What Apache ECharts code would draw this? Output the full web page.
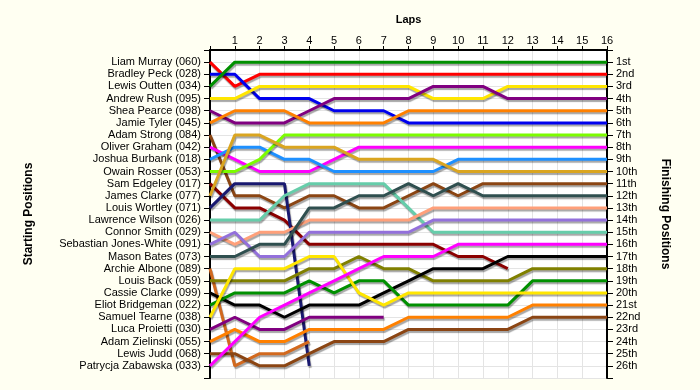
<!DOCTYPE html>
<html>
<head>
<meta charset="utf-8">
<script src="https://cdn.jsdelivr.net/npm/echarts@6/dist/echarts.min.js"></script>
<style>
  html, body { margin: 0; padding: 0; background: #FFFFF2; }
  #chart { width: 700px; height: 390px; }
</style>
</head>
<body>
<div id="chart"></div>
<script>
// ---- data ----
const lapTicks = [1, 2, 3, 4, 5, 6, 7, 8, 9, 10, 11, 12, 13, 14, 15, 16];
const riders = [
  "Liam Murray (060)", "Bradley Peck (028)", "Lewis Outten (034)", "Andrew Rush (095)",
  "Shea Pearce (098)", "Jamie Tyler (045)", "Adam Strong (084)", "Oliver Graham (042)",
  "Joshua Burbank (018)", "Owain Rosser (053)", "Sam Edgeley (017)", "James Clarke (077)",
  "Louis Wortley (071)", "Lawrence Wilson (026)", "Connor Smith (029)", "Sebastian Jones-White (091)",
  "Mason Bates (073)", "Archie Albone (089)", "Louis Back (059)", "Cassie Clarke (099)",
  "Eliot Bridgeman (022)", "Samuel Tearne (038)", "Luca Proietti (030)", "Adam Zielinski (055)",
  "Lewis Judd (068)", "Patrycja Zabawska (033)"
];
const finishLabels = ["1st","2nd","3rd","4th","5th","6th","7th","8th","9th","10th","11th","12th","13th",
  "14th","15th","16th","17th","18th","19th","20th","21st","22nd","23rd","24th","25th","26th"];
// position of each rider after each lap (index 0 = start)
const lapPositions = [
  [1,3,2,2,2,2,2,2,2,2,2,2,2,2,2,2,2],
  [2,2,4,4,4,5,5,5,6,6,6,6,6,6,6,6,6],
  [3,1,1,1,1,1,1,1,1,1,1,1,1,1,1,1,1],
  [4,4,3,3,3,3,3,3,3,4,4,4,3,3,3,3,3],
  [5,6,6,6,5,4,4,4,4,3,3,3,4,4,4,4,4],
  [6,5,5,5,6,6,6,6,5,5,5,5,5,5,5,5,5],
  [7,12,12,13,12,12,13,13,12,11,12,11,11,11,11,11,11],
  [8,9,10,10,10,9,8,8,8,8,8,8,8,8,8,8,8],
  [9,8,8,9,9,10,10,10,10,10,9,9,9,9,9,9,9],
  [10,10,9,7,7,7,7,7,7,7,7,7,7,7,7,7,7],
  [11,13,13,14,16,16,16,16,16,16,17,17,18],
  [12,7,7,8,8,8,9,9,9,9,10,10,10,10,10,10,10],
  [13,11,11,11,26],
  [14,14,14,12,11,11,11,11,13,15,15,15,15,15,15,15,15],
  [15,16,15,15,14,14,14,14,14,13,13,13,13,13,13,13,13],
  [16,15,17,17,15,15,15,15,15,14,14,14,14,14,14,14,14],
  [17,17,16,16,13,13,12,12,11,12,11,12,12,12,12,12,12],
  [18,26,25,25,24],
  [19,19,19,19,18,18,17,18,18,19,19,19,19,18,18,18,18],
  [20,21,21,22,21,21,21,20,19,18,18,18,17,17,17,17,17],
  [21,20,20,20,19,20,19,19,21,21,21,21,21,19,19,19,19],
  [22,18,18,18,17,17,20,21,20,20,20,20,20,20,20,20,20],
  [23,22,23,23,22,22,22,22],
  [24,23,24,24,23,23,23,23,22,22,22,22,22,21,21,21,21],
  [25,25,26,26,25,24,24,24,23,23,23,23,23,22,22,22,22],
  [26,24,22,21,20,19,18,17,17,17,16,16,16,16,16,16,16]
];
// ---- styles ----
const riderColors = [
  "#FF0000", "#0000EE", "#009000", "#FFE600", "#800080", "#FF8000", "#8B4513", "#FF00FF",
  "#1E90FF", "#7CFC00", "#8B0000", "#DAA520", "#191970", "#66CDAA", "#FFA07A", "#9370DB",
  "#2F4F4F", "#D2691E", "#808000", "#000000", "#009000", "#FFE600", "#800080", "#FF8000",
  "#8B4513", "#FF00FF"
];

const font = "'Liberation Sans', Arial, sans-serif";
const series = lapPositions.map((pos, i) => ({
  name: riders[i],
  type: 'line',
  yAxisIndex: 0,
  data: pos.map((p, lap) => [lap, p]),
  symbol: 'none',
  silent: true,
  animation: false,
  z: 3,
  lineStyle: {
    color: riderColors[i],
    width: 3,
    shadowColor: 'rgba(0,0,0,0.35)',
    shadowBlur: 1,
    shadowOffsetX: 1,
    shadowOffsetY: 2
  }
}));
// invisible series to bind right axis
series.push({ type: 'line', yAxisIndex: 1, data: [], symbol: 'none' });

const chart = echarts.init(document.getElementById('chart'), null, { renderer: 'canvas' });
chart.setOption({
  backgroundColor: '#FFFFF2',
  animation: false,
  grid: {
    left: 210, right: 93, top: 50, bottom: 12,
    show: true, backgroundColor: '#FFFFFF', borderWidth: 0
  },
  xAxis: {
    type: 'value', position: 'top', min: 0, max: 16, interval: 1,
    name: 'Laps', nameLocation: 'middle', nameGap: 25,
    nameTextStyle: { fontFamily: font, fontSize: 11, fontWeight: 'bold', color: '#000' },
    axisLine: { show: true, lineStyle: { color: '#000', width: 2 } },
    axisTick: { show: true, length: 4, lineStyle: { color: '#000', width: 1 } },
    axisLabel: {
      margin: 4, fontFamily: font, fontSize: 11, color: '#000',
      formatter: v => (lapTicks.indexOf(v) >= 0 ? String(v) : '')
    },
    splitLine: { show: true, lineStyle: { color: '#E4E4E4', width: 1 } }
  },
  yAxis: [
    {
      type: 'value', position: 'left', inverse: true, min: 0, max: 27, interval: 1,
      name: 'Starting Positions', nameLocation: 'middle', nameGap: 175, nameRotate: 90,
      nameTextStyle: { fontFamily: font, fontSize: 12, fontWeight: 'bold', color: '#000' },
      axisLine: { show: true, onZero: false, lineStyle: { color: '#000', width: 2 } },
      axisTick: { show: true, length: 6, lineStyle: { color: '#000', width: 1 } },
      axisLabel: {
        margin: 9, fontFamily: font, fontSize: 11, color: '#000',
        formatter: v => (v >= 1 && v <= riders.length ? riders[v - 1] : '')
      },
      splitLine: { show: true, lineStyle: { color: '#E4E4E4', width: 1 } }
    },
    {
      type: 'value', position: 'right', inverse: true, min: 0, max: 27, interval: 1,
      name: 'Finishing Positions', nameLocation: 'middle', nameGap: 52, nameRotate: -90,
      nameTextStyle: { fontFamily: font, fontSize: 12, fontWeight: 'bold', color: '#000' },
      axisLine: { show: true, onZero: false, lineStyle: { color: '#000', width: 2 } },
      axisTick: { show: true, length: 6, lineStyle: { color: '#000', width: 1 } },
      axisLabel: {
        margin: 9, fontFamily: font, fontSize: 11, color: '#000',
        formatter: v => (v >= 1 && v <= finishLabels.length ? finishLabels[v - 1] : '')
      },
      splitLine: { show: false }
    }
  ],
  series: series
});
</script>
</body>
</html>
